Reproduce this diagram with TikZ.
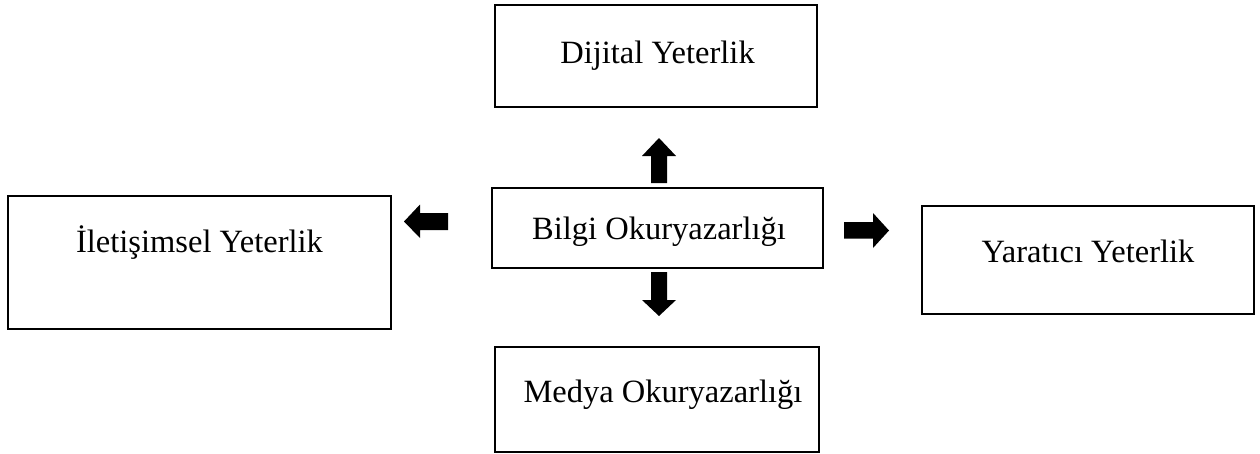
\documentclass[tikz,border=0pt]{standalone}
\usepackage{fontspec}
\setmainfont{Liberation Serif}
\tikzset{
  box/.style={draw=black, line width=1.6pt, rectangle, inner sep=0pt, fill=white},
  lbl/.style={anchor=base, inner sep=0pt, font=\fontsize{32.5}{39}\selectfont},
  blockarrow/.style={fill=black, draw=none}
}
\begin{document}
\begin{tikzpicture}[x=1pt, y=-1pt]
\useasboundingbox (0,0) rectangle (1260,453);
% boxes
\node[box, minimum width=322pt, minimum height=102pt] (dij) at (656,56) {};
\node[box, minimum width=331pt, minimum height=80pt] (bil) at (657.5,228) {};
\node[box, minimum width=383pt, minimum height=133pt] (ile) at (199.5,262.5) {};
\node[box, minimum width=332pt, minimum height=108pt] (yar) at (1088,260) {};
\node[box, minimum width=324pt, minimum height=105pt] (med) at (657,399.5) {};
% labels
\node[lbl] (tdij) at (657.5,63) {Dijital Yeterlik};
\node[lbl] (tbil) at (659,239) {Bilgi Okuryazarlığı};
\node[lbl] (tile) at (199.5,252) {İletişimsel Yeterlik};
\node[lbl] (tyar) at (1088,262) {Yaratıcı Yeterlik};
\node[lbl] (tmed) at (663,402) {Medya Okuryazarlığı};
% block arrows
\fill[blockarrow] (651,183) -- (651,156) -- (642,156) -- (659,138) -- (676,156) -- (667,156) -- (667,183) -- cycle;
\fill[blockarrow] (651,272) -- (651,300) -- (642,300) -- (659,316) -- (676,300) -- (667,300) -- (667,272) -- cycle;
\fill[blockarrow] (448,213) -- (420,213) -- (420,204.5) -- (404,221.5) -- (420,238) -- (420,230) -- (448,230) -- cycle;
\fill[blockarrow] (844,222) -- (873,222) -- (873,213) -- (889,230.5) -- (873,248) -- (873,238.5) -- (844,238.5) -- cycle;
\end{tikzpicture}
\end{document}
